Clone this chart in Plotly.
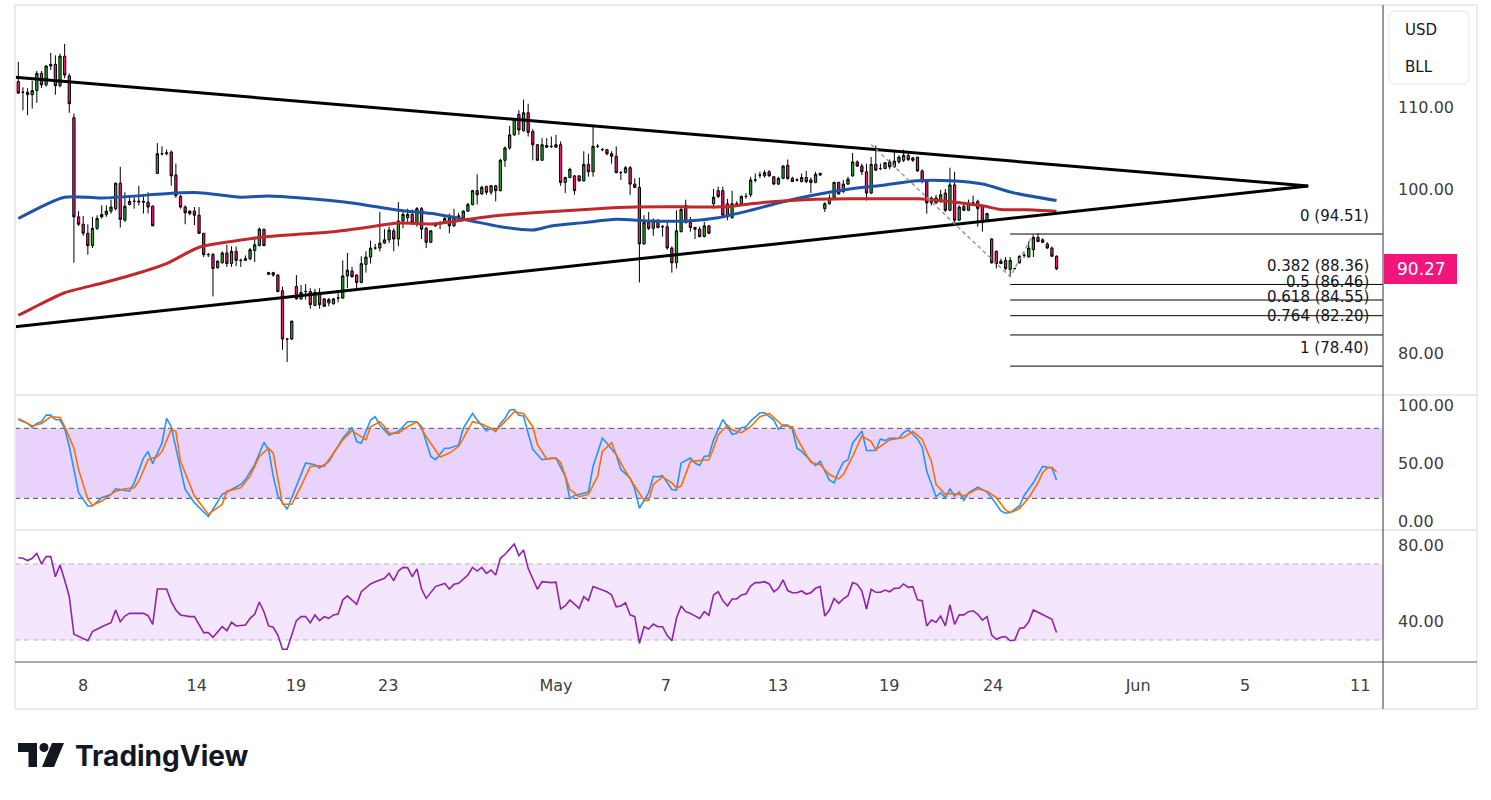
import plotly.graph_objects as go

W, H = 1491, 800

# ---------------- candles (bar index 0..224) ----------------
bar_open = [
    113.1,111.8,111.8,111.5,112.0,114.1,112.7,115.0,115.2,112.6,
    116.2,113.8,108.7,96.6,95.7,94.6,93.1,95.2,96.6,96.9,
    97.3,97.6,100.7,96.2,98.1,98.5,98.4,98.5,98.4,97.9,
    101.9,104.3,104.3,104.5,101.7,99.1,97.8,97.0,97.3,96.8,
    94.6,92.0,92.0,90.4,91.0,92.2,90.9,92.4,91.3,91.3,
    91.5,92.5,93.1,95.1,89.6,89.8,89.5,87.6,81.7,81.7,
    88.1,86.6,87.5,87.5,85.8,87.4,86.6,86.1,86.0,86.7,
    86.7,89.4,90.0,89.5,88.6,90.8,91.7,92.8,92.8,93.4,
    93.8,94.9,93.9,96.1,96.5,96.9,95.8,97.6,95.2,93.5,
    95.5,95.9,95.9,96.4,95.5,96.6,96.5,97.3,98.1,99.8,
    99.4,100.3,99.6,100.4,99.8,103.5,105.0,106.6,109.1,107.1,
    109.3,107.0,105.4,103.5,105.1,105.2,105.1,105.4,100.8,101.4,
    101.6,101.6,101.0,103.0,102.1,105.2,104.8,104.8,104.3,104.0,
    102.0,102.0,102.6,100.6,100.2,93.3,95.9,95.2,96.2,95.4,
    95.4,92.8,91.0,94.8,98.0,95.9,95.3,95.1,94.2,95.5,
    98.2,99.8,99.8,98.2,96.5,98.2,98.2,99.1,99.3,101.1,
    101.7,101.6,102.1,101.5,100.6,101.3,102.9,101.3,101.1,100.9,
    101.4,101.1,100.8,101.7,97.6,98.2,98.9,100.8,99.7,100.6,
    101.6,103.3,102.8,102.1,99.5,103.0,102.5,102.5,103.3,102.7,
    103.3,103.5,104.1,103.8,103.9,102.2,100.9,98.9,98.3,98.5,
    99.5,97.4,100.5,96.2,97.9,97.4,98.3,98.5,97.9,96.1,
    93.9,92.4,90.9,91.3,90.2,90.3,91.0,91.9,91.7,92.6,
    94.1,93.8,93.3,92.8,91.8]
bar_high = [
    115.5,112.4,112.3,113.2,114.4,114.4,115.1,116.6,116.3,116.5,
    117.7,114.1,109.2,97.3,96.7,95.7,96.6,96.8,98.0,98.0,
    98.7,100.8,102.7,99.6,99.1,99.1,100.4,99.3,99.6,98.0,
    105.6,105.2,104.8,104.7,103.1,99.3,98.0,97.4,97.8,97.8,
    94.6,92.2,92.2,91.3,92.4,93.2,93.0,93.0,91.5,91.9,
    92.8,94.2,95.3,95.1,89.9,89.9,89.6,88.1,81.8,83.9,
    89.5,88.3,88.4,87.9,87.8,87.9,86.7,86.7,86.7,87.6,
    91.3,92.2,90.5,89.6,91.8,92.4,93.7,93.3,97.2,95.1,
    95.4,95.2,98.4,97.4,97.6,97.5,97.8,97.8,95.4,95.0,
    95.9,96.1,96.6,97.0,97.6,97.1,97.4,98.3,99.9,101.8,
    100.4,100.4,100.5,100.5,103.7,105.2,107.7,108.6,109.6,110.9,
    110.4,107.3,105.5,106.2,106.2,106.4,106.6,105.8,101.5,102.6,
    101.7,101.7,104.6,104.3,107.6,105.5,105.0,104.8,104.6,105.2,
    102.2,102.8,102.8,101.3,101.4,96.8,97.2,96.4,96.3,95.6,
    96.2,93.0,97.4,97.8,98.7,96.6,95.4,95.4,96.0,95.6,
    100.0,100.3,100.3,98.8,99.8,98.5,99.2,99.5,101.5,101.9,
    102.1,102.3,102.3,101.5,101.5,102.9,103.6,101.5,101.3,101.9,
    102.2,101.4,102.1,102.0,98.4,99.3,100.9,100.9,101.1,101.5,
    104.4,103.5,103.1,103.1,103.9,105.3,103.1,103.3,103.6,104.6,
    104.1,104.8,104.3,103.9,103.9,102.4,101.0,99.1,99.3,99.9,
    100.0,102.6,102.1,98.0,98.4,98.7,99.2,98.7,98.0,97.1,
    94.0,92.5,91.5,91.7,91.7,90.4,91.9,92.2,93.6,94.3,
    94.6,94.0,93.5,93.0,91.9]
bar_low = [
    111.6,109.6,109.0,109.8,110.5,112.3,112.5,114.5,111.5,112.4,
    113.5,109.3,91.0,95.5,94.3,92.0,92.8,95.0,96.4,96.6,
    97.0,97.4,95.3,96.0,98.0,97.6,98.0,97.0,97.0,95.5,
    101.9,104.1,104.1,100.4,98.9,97.6,95.7,96.8,95.6,94.5,
    91.7,91.7,86.9,90.3,90.9,90.5,90.5,90.6,90.5,91.2,
    91.3,91.1,93.0,93.0,89.5,89.3,87.4,80.4,78.9,81.6,
    86.5,86.5,86.5,85.4,85.7,85.4,85.6,85.7,85.9,86.2,
    86.6,87.9,89.2,87.9,88.5,89.8,90.9,92.6,92.4,93.3,
    93.4,92.4,93.0,95.2,96.0,95.6,95.4,93.9,92.8,93.4,
    95.4,95.1,95.8,94.6,95.4,96.5,96.4,97.2,98.0,98.1,
    99.3,99.3,99.3,98.5,99.7,102.7,104.8,106.5,106.6,107.0,
    106.4,103.5,103.5,103.5,105.0,105.0,105.0,100.4,99.5,101.3,
    99.3,100.9,100.9,101.5,101.5,105.0,104.6,104.1,103.1,101.9,
    101.1,101.9,99.3,100.1,88.6,93.2,95.0,94.3,95.2,94.2,
    92.6,89.8,90.3,94.7,95.8,94.8,93.9,94.1,94.1,94.5,
    97.6,98.9,96.6,96.2,96.4,97.9,98.1,98.8,99.0,100.8,
    101.3,101.4,101.5,100.5,100.5,101.2,101.1,100.9,100.9,100.8,
    100.7,99.5,100.7,101.6,97.2,98.1,98.6,99.3,99.5,100.5,
    101.5,102.7,101.7,98.6,99.4,102.2,102.3,102.4,102.4,102.6,
    103.1,103.3,103.4,103.3,102.1,100.7,97.0,98.0,98.2,98.3,
    97.2,97.3,95.7,96.1,97.3,97.3,98.2,95.4,94.8,96.0,
    90.9,90.3,90.9,90.1,89.3,90.2,90.9,91.6,91.7,91.7,
    93.5,93.4,92.7,91.7,90.1]
bar_close = [
    111.7,111.8,111.5,112.0,114.1,112.7,115.0,115.2,112.6,116.2,
    113.9,110.4,96.6,95.7,94.6,93.1,95.2,96.4,96.9,97.3,
    97.8,100.7,96.3,97.9,98.5,98.5,98.5,98.4,97.8,95.5,
    104.3,104.3,104.4,101.6,99.2,97.8,97.1,97.3,96.8,94.6,
    92.0,92.0,90.3,91.2,92.2,90.9,92.4,91.3,91.3,91.5,
    92.6,93.2,95.1,93.1,89.8,89.5,87.5,81.7,81.7,83.9,
    86.6,87.4,87.5,85.9,87.4,85.9,85.7,86.5,86.6,86.7,
    89.4,90.1,89.3,88.6,90.9,91.7,92.8,92.8,93.4,93.8,
    95.0,93.9,96.1,96.9,96.9,95.9,97.6,95.1,93.5,94.9,
    95.8,95.9,96.4,95.5,96.5,96.7,97.3,98.1,99.8,99.3,
    100.2,99.6,100.4,99.8,103.5,105.0,106.6,108.5,107.2,109.3,
    106.9,105.4,103.5,105.4,105.3,105.2,105.4,100.8,101.4,102.4,
    99.8,101.0,103.0,102.1,105.2,105.2,104.8,104.3,104.0,102.0,
    102.0,102.6,100.6,100.2,93.3,95.9,95.2,96.2,95.3,95.4,
    92.8,91.0,94.9,97.5,95.9,95.3,95.1,94.2,95.5,94.6,
    99.0,99.1,96.8,96.6,98.2,98.2,99.1,99.1,101.1,101.1,
    101.7,102.0,101.6,100.6,101.3,102.8,101.3,100.9,101.1,101.4,
    100.9,100.8,101.8,101.9,98.2,98.9,100.8,99.4,100.6,101.2,
    103.3,102.8,102.1,99.5,103.0,102.3,102.5,103.2,102.7,103.4,
    103.9,104.1,103.6,103.5,102.2,100.9,98.3,98.3,98.9,99.3,
    97.4,100.5,96.2,97.8,97.4,98.3,98.3,97.6,95.9,97.0,
    91.0,90.9,91.2,90.3,91.3,90.3,91.8,91.9,92.8,94.1,
    93.6,93.5,92.8,91.8,90.27]
bar_index = list(range(len(bar_close)))
last_price = 90.27

# ---------------- moving averages (bar index, value) ----------------
ma_blue = [(0,96.4),(10,99.0),(18,98.9),(34,99.5),(39,99.55),(48,99.0),(54,99.15),(61,98.9),
           (72,98.3),(82,97.4),(90,96.95),(97,96.2),(104,95.4),(111,95.0),(115,95.5),(122,95.9),
           (129,96.3),(136,96.1),(144,96.1),(151,96.5),(158,97.4),(165,98.45),(172,99.3),
           (179,99.96),(187,100.5),(194,101.0),(201,101.0),(208,100.6),(215,99.5),(224,98.6)]
ma_red = [(0,84.6),(3,85.45),(10,87.35),(18,88.5),(25,89.6),(32,90.9),(39,92.9),(46,93.6),
          (54,94.2),(61,94.5),(68,94.8),(75,95.3),(82,95.85),(90,95.75),(97,96.3),(104,96.8),
          (111,97.1),(118,97.35),(125,97.6),(133,97.8),(140,97.85),(147,97.8),(154,97.9),
          (158,98.2),(165,98.55),(172,98.75),(179,98.8),(187,98.8),(194,98.8),(201,98.45),
          (208,97.95),(212,97.5),(219,97.45),(224,97.3)]

# ---------------- stochastic RSI ----------------
stoch_k = [(0,87.6),(2,84.2),(3,80.8),(4,84.2),(5,85.7),(6,91.3),(7,91.3),(8,87.6),(9,87.1),(10,80.0),
           (11,64.4),(12,44.6),(13,24.8),(15,13.5),(16,13.5),(18,20.6),(20,23.4),(21,28.2),(22,27.6),
           (24,26.2),(25,33.3),(27,54.5),(28,60.2),(29,49.7),(30,58.8),(31,67.3),(32,88.5),(33,81.4),
           (34,63.0),(35,44.6),(36,27.6),(38,16.3),(41,4.4),(42,10.7),(44,23.4),(46,27.6),(48,31.9),
           (49,36.1),(51,48.9),(53,68.1),(54,61.6),(55,39.0),(56,22.0),(58,10.7),(60,30.5),(62,50.3),
           (64,48.9),(65,46.0),(67,51.7),(70,71.5),(72,80.8),(73,68.7),(74,67.3),(76,87.1),(77,89.9),
           (78,82.8),(80,74.3),(82,77.2),(84,85.7),(86,85.7),(87,81.4),(89,55.9),(90,53.1),(92,63.0),
           (93,63.0),(95,65.8),(96,80.0),(98,92.7),(99,87.1),(101,78.0),(102,80.0),(103,77.2),
           (104,84.2),(105,88.5),(106,95.6),(107,96.1),(108,91.3),(109,90.5),(110,75.8),(111,62.0),
           (112,57.4),(113,53.1),(115,54.5),(116,54.5),(118,38.9),(119,19.7),(120,22.5),(123,25.4),
           (124,47.4),(126,71.5),(127,67.3),(129,57.4),(130,44.6),(132,37.5),(133,28.2),(134,11.5),
           (136,24.8),(137,38.9),(138,38.4),(139,39.5),(141,27.6),(142,27.1),(143,50.3),(145,54.5),
           (146,50.3),(147,48.3),(148,55.9),(149,56.5),(150,70.1),(151,79.2),(152,87.6),(153,81.4),
           (154,74.9),(155,75.8),(156,80.6),(157,81.4),(158,86.2),(160,93.3),(161,93.3),(163,87.1),
           (164,79.2),(165,82.8),(166,82.8),(167,79.2),(168,63.0),(169,60.2),(171,51.7),(172,48.0),
           (173,51.7),(175,35.6),(176,33.3),(177,43.2),(178,51.1),(179,53.1),(180,67.3),(182,77.7),
           (183,61.0),(185,61.0),(186,70.9),(187,69.5),(188,71.5),(190,71.5),(191,76.3),(192,78.6),
           (194,70.9),(195,63.9),(196,43.2),(198,21.4),(199,24.8),(200,20.6),(201,28.2),(202,22.0),
           (203,25.4),(204,18.3),(205,24.8),(207,29.6),(209,25.4),(210,20.6),(212,9.2),(213,7.3),
           (214,7.8),(216,13.5),(217,22.5),(219,33.3),(221,47.4),(222,46.9),(223,46.0),(224,35.6)]
stoch_d = [(0,88.5),(3,82.0),(5,84.2),(7,89.9),(9,89.3),(10,81.4),(12,63.0),(13,44.6),(15,19.1),
           (16,14.1),(18,17.7),(21,26.2),(23,28.2),(25,29.1),(26,34.7),(28,53.1),(30,55.9),(31,60.2),
           (33,79.2),(34,77.2),(35,51.7),(38,22.0),(41,6.4),(44,14.9),(45,26.2),(48,29.1),(50,39.0),
           (52,55.9),(54,63.0),(55,58.8),(57,14.9),(59,14.9),(61,30.5),(63,47.4),(65,48.0),(66,47.4),
           (68,58.8),(70,70.1),(72,78.0),(75,70.1),(76,81.4),(78,85.7),(79,81.4),(80,75.8),(82,75.8),
           (84,81.4),(86,85.7),(88,72.9),(91,55.4),(93,58.8),(95,64.4),(98,85.7),(100,83.7),(103,78.0),
           (105,85.7),(107,94.2),(109,92.7),(111,81.4),(112,66.0),(114,53.7),(116,54.5),(117,50.8),
           (119,27.6),(121,21.4),(123,23.4),(125,39.0),(126,60.2),(128,67.8),(129,57.4),(131,43.2),
           (133,30.5),(135,18.3),(136,18.3),(137,31.9),(139,38.4),(141,33.3),(142,29.1),(143,30.5),
           (145,51.7),(147,52.5),(149,53.1),(150,63.0),(151,74.3),(153,82.8),(154,78.6),(156,76.3),
           (158,81.4),(160,89.9),(162,92.7),(163,89.3),(165,82.0),(167,81.4),(168,71.5),(170,57.4),
           (171,50.8),(173,48.9),(175,40.4),(177,36.7),(178,40.4),(180,55.9),(182,73.5),(184,68.7),
           (185,61.6),(187,67.3),(188,70.1),(191,72.1),(193,77.2),(195,70.7),(197,51.7),(198,31.9),
           (200,23.4),(201,24.2),(203,23.4),(204,22.0),(206,26.2),(207,28.2),(209,26.2),(211,20.6),
           (213,10.1),(214,7.8),(216,11.2),(218,20.6),(220,33.3),(221,42.0),(222,46.0),(223,46.6),
           (224,42.6)]
stoch_upper, stoch_lower = 80, 20

# ---------------- RSI ----------------
rsi = [(0,73.3),(1,73.0),(2,71.8),(3,73.0),(4,75.6),(5,70.0),(6,73.9),(7,73.9),(8,63.3),(9,69.5),
       (10,61.6),(11,52.8),(12,33.0),(15,29.6),(16,34.4),(18,37.0),(20,39.1),(21,45.8),(22,39.6),
       (23,42.6),(24,44.0),(27,44.0),(28,42.8),(29,38.2),(30,56.8),(32,56.8),(33,50.2),(34,45.8),
       (35,43.2),(37,42.3),(38,42.3),(40,33.9),(41,33.9),(42,31.4),(44,37.0),(45,34.9),(46,39.3),
       (47,37.4),(49,37.9),(50,41.4),(51,43.5),(52,50.0),(53,44.9),(54,37.4),(55,36.7),(56,32.6),
       (57,25.1),(58,25.1),(59,32.6),(60,40.2),(61,42.3),(62,42.3),(63,39.1),(64,43.2),(65,40.2),
       (66,42.3),(67,41.4),(68,43.2),(69,43.7),(70,51.1),(71,53.2),(73,48.8),(74,55.4),(76,59.5),
       (77,60.7),(79,62.5),(80,65.1),(81,61.2),(82,66.3),(83,68.2),(84,68.0),(85,63.3),(86,67.4),
       (87,56.8),(88,51.9),(90,58.1),(92,59.8),(93,56.8),(94,59.3),(95,59.8),(97,64.2),(98,68.2),
       (99,66.3),(100,68.2),(101,65.1),(102,66.8),(103,64.2),(104,73.0),(105,75.1),(107,80.5),
       (108,74.4),(109,77.4),(110,67.7),(111,62.1),(112,56.7),(113,60.7),(115,60.2),(116,60.4),
       (117,46.3),(118,47.9),(119,51.1),(121,46.7),(122,52.8),(123,50.7),(124,58.1),(125,57.2),
       (127,55.4),(128,53.7),(129,47.5),(130,47.9),(131,49.6),(132,43.2),(133,42.3),(134,28.2),
       (135,37.0),(136,35.8),(137,38.4),(138,37.0),(139,37.0),(140,32.3),(141,29.6),(142,41.4),
       (143,47.9),(144,44.9),(145,44.0),(147,41.4),(148,44.9),(149,43.0),(150,53.7),(151,55.4),
       (152,50.7),(153,47.9),(154,51.6),(155,51.6),(156,53.7),(157,54.2),(158,58.4),(159,60.2),
       (160,60.2),(161,60.7),(162,59.5),(163,55.4),(164,57.2),(165,61.6),(166,56.0),(167,54.9),
       (168,54.9),(169,55.8),(170,54.2),(171,54.9),(172,57.2),(173,58.1),(174,42.6),(175,45.8),
       (176,51.9),(177,49.3),(178,51.6),(179,53.3),(180,60.2),(181,59.3),(182,55.8),(183,46.3),
       (184,56.7),(185,55.1),(186,55.1),(187,56.3),(188,55.4),(189,57.2),(190,57.2),(191,59.5),
       (192,57.7),(193,58.1),(194,51.1),(195,50.7),(196,37.4),(197,40.5),(198,39.3),(199,42.6),
       (200,37.4),(201,48.4),(202,38.2),(203,43.2),(204,43.2),(205,44.9),(206,45.4),(207,43.5),
       (208,40.5),(209,42.3),(210,32.6),(211,30.4),(212,31.4),(213,31.8),(214,29.6),(215,30.0),
       (216,36.1),(217,36.5),(218,39.6),(219,45.8),(220,44.6),(221,43.7),(223,40.9),(224,34.0)]
rsi_upper, rsi_lower = 70, 30

# ---------------- drawings ----------------
tri_upper = [(-0.71, 113.62), (278.3, 100.37)]
tri_lower = [(-0.71, 83.21), (278.3, 100.37)]
fib_points = [(184, 105.42), (214, 89.31), (219, 94.51)]
fib_start = 214
fib_ratios = ["0", "0.382", "0.5", "0.618", "0.764", "1"]
fib_values = [94.51, 88.36, 86.46, 84.55, 82.20, 78.40]

# ---------------- axes ticks ----------------
x_tick_pos = [14, 38.5, 59.9, 79.8, 116, 139.7, 163.9, 187.9, 210.3, 241.6, 264.7, 289.5]
x_tick_text = ["8", "14", "19", "23", "May", "7", "13", "19", "24", "Jun", "5", "11"]
price_ticks = [80, 100, 110]
stoch_ticks = [0, 50, 100]
rsi_ticks = [40, 80]

# ---------------- styling ----------------
GREEN = "#2aa52f"
PINK = "#f2157c"
FONT = "DejaVu Sans"
TXT = "#3d3d3d"

def px(x):
    return x / W

def py(y):
    return 1 - y / H

X0, X1 = 15, 1383
x_range = [-0.712, 294.43]

fig = go.Figure()

# moving averages
fig.add_trace(go.Scatter(x=[p[0] for p in ma_blue], y=[p[1] for p in ma_blue], mode="lines",
                         line=dict(color="#1e53a8", width=3, shape="spline", smoothing=0.7),
                         xaxis="x", yaxis="y", hoverinfo="skip"))
fig.add_trace(go.Scatter(x=[p[0] for p in ma_red], y=[p[1] for p in ma_red], mode="lines",
                         line=dict(color="#c0282b", width=3, shape="spline", smoothing=0.7),
                         xaxis="x", yaxis="y", hoverinfo="skip"))

# candles
fig.add_trace(go.Candlestick(
    x=bar_index, open=bar_open, high=bar_high, low=bar_low, close=bar_close,
    increasing=dict(fillcolor=GREEN, line=dict(color="#000000", width=1)),
    decreasing=dict(fillcolor=PINK, line=dict(color="#000000", width=1)),
    whiskerwidth=0, xaxis="x", yaxis="y", hoverinfo="skip"))

# triangle
for seg in (tri_upper, tri_lower):
    fig.add_trace(go.Scatter(x=[p[0] for p in seg], y=[p[1] for p in seg], mode="lines",
                             line=dict(color="#000000", width=3), xaxis="x", yaxis="y",
                             hoverinfo="skip"))

# fib trend line
fig.add_trace(go.Scatter(x=[p[0] for p in fib_points], y=[p[1] for p in fib_points], mode="lines",
                         line=dict(color="#9a9a9a", width=1.5, dash="4px,3px"),
                         xaxis="x", yaxis="y", hoverinfo="skip"))
# fib levels
for v in fib_values:
    fig.add_trace(go.Scatter(x=[fib_start, x_range[1] + 10], y=[v, v], mode="lines",
                             line=dict(color="#000000", width=1), xaxis="x", yaxis="y",
                             hoverinfo="skip"))

# stoch
fig.add_trace(go.Scatter(x=[p[0] for p in stoch_k], y=[p[1] for p in stoch_k], mode="lines",
                         line=dict(color="#2196f3", width=1.6), xaxis="x", yaxis="y2",
                         hoverinfo="skip"))
fig.add_trace(go.Scatter(x=[p[0] for p in stoch_d], y=[p[1] for p in stoch_d], mode="lines",
                         line=dict(color="#ff6d00", width=1.6), xaxis="x", yaxis="y2",
                         hoverinfo="skip"))
# rsi
fig.add_trace(go.Scatter(x=[p[0] for p in rsi], y=[p[1] for p in rsi], mode="lines",
                         line=dict(color="#8e24aa", width=1.6), xaxis="x", yaxis="y3",
                         hoverinfo="skip"))

shapes = []
# bands
shapes.append(dict(type="rect", xref="paper", yref="y2", x0=px(X0), x1=px(X1),
                   y0=stoch_lower, y1=stoch_upper, fillcolor="#e9d2fc", line=dict(width=0),
                   layer="below"))
for v in (stoch_lower, stoch_upper):
    shapes.append(dict(type="line", xref="paper", yref="y2", x0=px(X0), x1=px(X1), y0=v, y1=v,
                       line=dict(color="#555555", width=1, dash="5px,4px"), layer="below"))
shapes.append(dict(type="rect", xref="paper", yref="y3", x0=px(X0), x1=px(X1),
                   y0=rsi_lower, y1=rsi_upper, fillcolor="#f4e6fd", line=dict(width=0),
                   layer="below"))
for v in (rsi_lower, rsi_upper):
    shapes.append(dict(type="line", xref="paper", yref="y3", x0=px(X0), x1=px(X1), y0=v, y1=v,
                       line=dict(color="#b8b8b8", width=1, dash="5px,4px"), layer="below"))

# frame & separators
shapes.append(dict(type="rect", xref="paper", yref="paper", x0=px(15), x1=px(1477),
                   y0=py(709), y1=py(5), line=dict(color="#ececec", width=2)))
for yy in (395, 530):
    shapes.append(dict(type="line", xref="paper", yref="paper", x0=px(15), x1=px(1477),
                       y0=py(yy), y1=py(yy), line=dict(color="#e0e3eb", width=1.5)))
shapes.append(dict(type="line", xref="paper", yref="paper", x0=px(15), x1=px(1477),
                   y0=py(662), y1=py(662), line=dict(color="#555555", width=1.2)))
shapes.append(dict(type="line", xref="paper", yref="paper", x0=px(1383), x1=px(1383),
                   y0=py(709), y1=py(5), line=dict(color="#555555", width=1.2)))

# USD / BLL box (rounded)
bx0, bx1, by0, by1, r = 1389, 1469, 11, 84, 6
path = (f"M {px(bx0+r)} {py(by0)} L {px(bx1-r)} {py(by0)} Q {px(bx1)} {py(by0)} {px(bx1)} {py(by0+r)} "
        f"L {px(bx1)} {py(by1-r)} Q {px(bx1)} {py(by1)} {px(bx1-r)} {py(by1)} "
        f"L {px(bx0+r)} {py(by1)} Q {px(bx0)} {py(by1)} {px(bx0)} {py(by1-r)} "
        f"L {px(bx0)} {py(by0+r)} Q {px(bx0)} {py(by0)} {px(bx0+r)} {py(by0)} Z")
shapes.append(dict(type="path", xref="paper", yref="paper", path=path, fillcolor="#ffffff",
                   line=dict(color="#e3e5ea", width=1)))

# price label box
shapes.append(dict(type="rect", xref="paper", yref="paper", x0=px(1384), x1=px(1457),
                   y0=py(284), y1=py(254), fillcolor=PINK, line=dict(width=0)))

# TradingView logo icon
shapes.append(dict(type="rect", xref="paper", yref="paper", x0=px(18), x1=px(37),
                   y0=py(752), y1=py(743), fillcolor="#131722", line=dict(width=0)))
shapes.append(dict(type="rect", xref="paper", yref="paper", x0=px(28.5), x1=px(37),
                   y0=py(767), y1=py(743), fillcolor="#131722", line=dict(width=0)))
shapes.append(dict(type="circle", xref="paper", yref="paper", x0=px(39.5), x1=px(48.5),
                   y0=py(752), y1=py(743), fillcolor="#131722", line=dict(width=0)))
shapes.append(dict(type="path", xref="paper", yref="paper",
                   path=f"M {px(52)} {py(743)} L {px(64)} {py(743)} L {px(54)} {py(767)} L {px(42)} {py(767)} Z",
                   fillcolor="#131722", line=dict(width=0)))

annotations = []
for ratio, v in zip(fib_ratios, fib_values):
    annotations.append(dict(xref="paper", yref="y", x=px(1371), y=v, xanchor="right",
                            yanchor="middle", yshift=18.5, text=f"{ratio} ({v:.2f})",
                            showarrow=False, font=dict(family=FONT, size=15, color="#131722")))
annotations.append(dict(xref="paper", yref="y", x=px(1421), y=last_price, xanchor="center",
                        yanchor="middle", text=f"{last_price:.2f}", showarrow=False,
                        font=dict(family=FONT, size=17, color="#ffffff")))
annotations.append(dict(xref="paper", yref="paper", x=px(1403), y=py(30), xanchor="left",
                        yanchor="middle", text="USD", showarrow=False,
                        font=dict(family=FONT, size=15, color="#131722")))
annotations.append(dict(xref="paper", yref="paper", x=px(1403), y=py(67), xanchor="left",
                        yanchor="middle", text="BLL", showarrow=False,
                        font=dict(family=FONT, size=15, color="#131722")))
annotations.append(dict(xref="paper", yref="paper", x=px(73), y=py(756), xanchor="left",
                        yanchor="middle", text="<b>TradingView</b>", showarrow=False,
                        font=dict(family="Inter", size=28, color="#131722")))

axis_font = dict(family=FONT, size=16, color=TXT)

fig.update_layout(
    width=W, height=H, margin=dict(l=0, r=0, t=0, b=0),
    paper_bgcolor="#ffffff", plot_bgcolor="rgba(0,0,0,0)", showlegend=False,
    xaxis=dict(domain=[px(X0), px(X1)], range=x_range, anchor="y3", showgrid=False,
               zeroline=False, showline=False, tickmode="array", tickvals=x_tick_pos,
               ticktext=x_tick_text, ticks="", tickfont=axis_font, ticklabelstandoff=12,
               rangeslider=dict(visible=False), fixedrange=True),
    yaxis=dict(domain=[py(395), py(6)], range=[74.878, 122.317], anchor="x", side="right",
               showgrid=False, zeroline=False, showline=False, tickmode="array",
               tickvals=price_ticks, ticktext=[f"{t:.2f}" for t in price_ticks], ticks="",
               tickfont=axis_font, ticklabelstandoff=14),
    yaxis2=dict(domain=[py(530), py(395)], range=[-7.11, 108.57], anchor="x", side="right",
                showgrid=False, zeroline=False, showline=False, tickmode="array",
                tickvals=stoch_ticks, ticktext=[f"{t:.2f}" for t in stoch_ticks], ticks="",
                tickfont=axis_font, ticklabelstandoff=14),
    yaxis3=dict(domain=[py(662), py(530)], range=[18.42, 87.89], anchor="x", side="right",
                showgrid=False, zeroline=False, showline=False, tickmode="array",
                tickvals=rsi_ticks, ticktext=[f"{t:.2f}" for t in rsi_ticks], ticks="",
                tickfont=axis_font, ticklabelstandoff=14),
    shapes=shapes, annotations=annotations,
)

fig.write_html("out.html", config={"displayModeBar": False},
               post_script="document.body.style.margin='0';document.body.style.overflow='hidden';")
